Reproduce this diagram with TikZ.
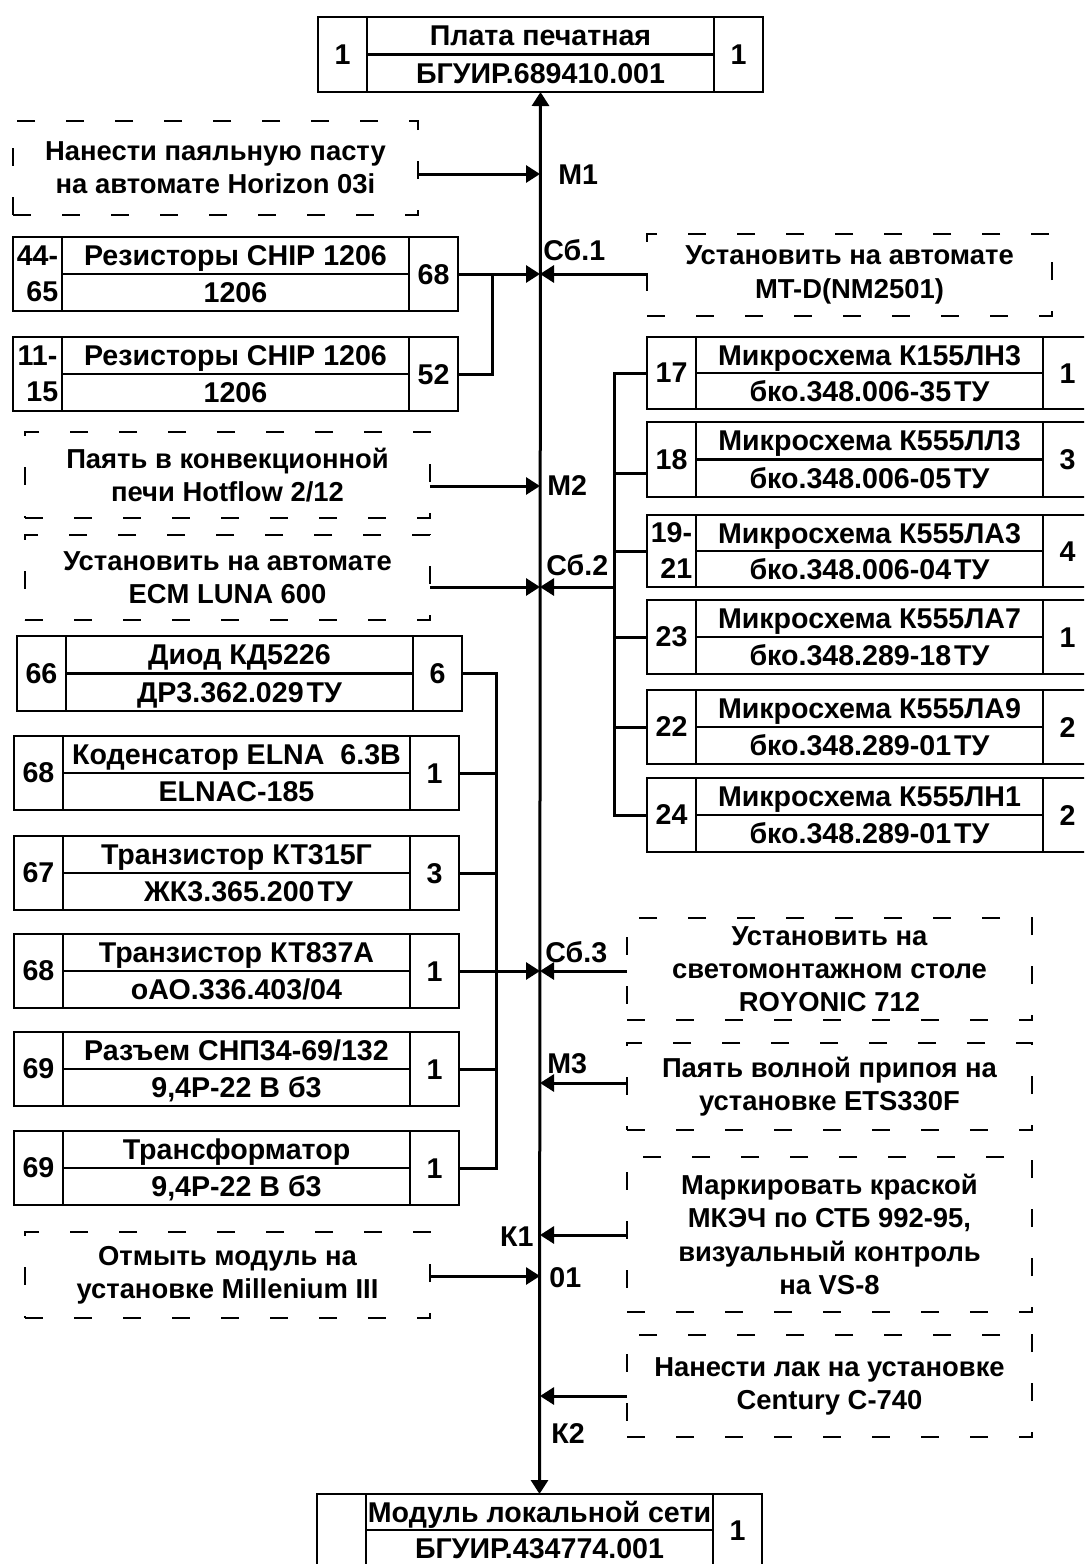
\documentclass[tikz,border=0pt]{standalone}
\usepackage{fontspec}
\setmainfont{Liberation Sans}
\usetikzlibrary{arrows.meta,calc}

\tikzset{
  every node/.style={font=\fontsize{14.3pt}{17pt}\selectfont\bfseries},
  cb/.style={draw, line width=1.4pt, rectangle, inner sep=0pt, outer sep=0pt, minimum width=222.5pt},
  cbl/.style={line width=1.4pt},
  txt/.style={inner sep=0pt, text height=10.2pt, text depth=0pt},
  lab2/.style={inner sep=0pt, align=center, font=\fontsize{14.3pt}{18pt}\selectfont\bfseries},
  dbox/.style={draw, line width=1.4pt, dash pattern=on 9pt off 15.5pt, rectangle, inner sep=0pt, outer sep=0pt, align=center, font=\fontsize{13.7pt}{16.6pt}\selectfont\bfseries},
  conn/.style={line width=1.5pt},
  tip/.tip={Triangle[length=7pt,width=8.5pt]},
  arr/.style={line width=1.5pt, -tip},
  mlab/.style={inner sep=0pt, text height=10.2pt, text depth=0pt},
}

% component box: name, x, ytop, ybottom, left label, top text, bottom text, right label
\newcommand{\compbox}[8]{%
  \node[cb, minimum height={(#4-#3)*0.5pt}, anchor=north west] (#1) at (#2,#3) {};
  \draw[cbl] ([xshift=24.5pt]#1.north west) -- ([xshift=24.5pt]#1.south west);
  \draw[cbl] ([xshift=-24.5pt]#1.north east) -- ([xshift=-24.5pt]#1.south east);
  \draw[cbl] ([xshift=24.5pt]#1.west) -- ([xshift=-24.5pt]#1.east);
  \node[lab2] (#1-l) at ([xshift=12.25pt]#1.west) {#5};
  \node[txt] (#1-t) at ($(#1.north)!0.5!(#1.center)$) {#6};
  \node[txt] (#1-b) at ($(#1.south)!0.5!(#1.center)$) {#7};
  \node[txt] (#1-r) at ([xshift=-12.25pt]#1.east) {#8};
}
% dashed operation box: name, x1, y1, x2, y2, text
\newcommand{\dsbox}[6]{%
  \node[dbox, minimum width={(#4-#2)*0.5pt}, minimum height={(#5-#3)*0.5pt}, anchor=north west] (#1) at (#2,#3) {#6};
}

\begin{document}
\begin{tikzpicture}[x=0.5pt, y=-0.5pt]
\useasboundingbox (0,0) rectangle (1084,1564);
\clip (0,0) rectangle (1084,1564);

% --- top and bottom boxes
\compbox{top}{318}{17}{92}{1}{Плата печатная}{БГУИР.689410.001}{1}
\compbox{bot}{317}{1494}{1566}{}{Модуль локальной сети}{БГУИР.434774.001}{1}

% --- main line
\draw[conn, tip-tip] (top.south) -- (bot.north);

% coordinates on main line
\coordinate (m1)  at (540,174);
\coordinate (sb1) at (540,274);
\coordinate (m2)  at (540,486);
\coordinate (sb2) at (540,587);
\coordinate (sb3) at (540,971);
\coordinate (m3)  at (540,1083);
\coordinate (k1)  at (540,1235);
\coordinate (o1)  at (540,1276);
\coordinate (k2)  at (540,1396);

% --- left side
\dsbox{d1}{13}{121}{418}{215}{Нанести паяльную пасту\\на автомате Horizon 03i}
\compbox{r1}{13}{237}{311}{44-\\\hphantom{-}65}{Резисторы CHIP 1206}{1206}{68}
\compbox{r2}{13}{337}{411}{11-\\\hphantom{-}15}{Резисторы CHIP 1206}{1206}{52}
\dsbox{d3}{25}{432}{430}{518}{Паять в конвекционной\\печи Hotflow 2/12}
\dsbox{d4}{25}{535}{430}{620}{Установить на автомате\\ECM LUNA 600}

\compbox{L1}{17}{636}{711}{66}{Диод КД5226}{ДР3.362.029\kern1.5ptТУ}{6}
\compbox{L2}{14}{736}{810}{68}{Коденсатор ELNA\ \ 6.3В}{ELNAC-185}{1}
\compbox{L3}{14}{836}{910}{67}{Транзистор КТ315Г}{\hspace*{12pt}ЖК3.365.200\kern1.5ptТУ}{3}
\compbox{L4}{14}{934}{1008}{68}{Транзистор КТ837А}{оАО.336.403/04}{1}
\compbox{L5}{14}{1032}{1106}{69}{Разъем СНП34-69/132}{9,4Р-22 В б3}{1}
\compbox{L6}{14}{1131}{1205}{69}{Трансформатор}{9,4Р-22 В б3}{1}
\dsbox{d9}{25}{1232}{430}{1318}{Отмыть модуль на\\установке Millenium III}

% --- right side
\dsbox{d2}{647}{234}{1052}{316}{Установить на автомате\\MT-D(NM2501)}
\compbox{C1}{647}{337}{409}{17}{Микросхема К155ЛН3}{бко.348.006-35\kern1.5ptТУ}{1}
\compbox{C2}{647}{422}{497}{18}{Микросхема К555ЛЛ3}{бко.348.006-05\kern1.5ptТУ}{3}
\compbox{C3}{647}{515}{587}{19-\\\hphantom{-}21}{Микросхема К555ЛА3}{бко.348.006-04\kern1.5ptТУ}{4}
\compbox{C4}{647}{600}{674}{23}{Микросхема К555ЛА7}{бко.348.289-18\kern1.5ptТУ}{1}
\compbox{C5}{647}{690}{764}{22}{Микросхема К555ЛА9}{бко.348.289-01\kern1.5ptТУ}{2}
\compbox{C6}{647}{778}{852}{24}{Микросхема К555ЛН1}{бко.348.289-01\kern1.5ptТУ}{2}

\dsbox{d5}{627}{918}{1032}{1020}{Установить на\\светомонтажном столе\\ROYONIC 712}
\dsbox{d6}{627}{1043}{1032}{1130}{Паять волной припоя на\\установке ETS330F}
\dsbox{d7}{627}{1157}{1032}{1312}{Маркировать краской\\МКЭЧ по СТБ 992-95,\\визуальный контроль\\на VS-8}
\dsbox{d8}{627}{1335}{1032}{1437}{Нанести лак на установке\\Century C-740}

% --- junctions
\coordinate (j1) at (492,274);
\coordinate (j2) at (614,587);
\coordinate (j3) at (496,971);

% resistors -> Сб.1
\draw[arr] (r1.east) -- (sb1);
\draw[conn] (r2.east) -| (j1);
\draw[arr] (d2.west |- sb1) -- (sb1);
% М1, М2
\draw[arr] (d1.east |- m1) -- (m1);
\draw[arr] (d3.east |- m2) -- (m2);
% Сб.2
\draw[arr] (d4.east |- sb2) -- (sb2);
\draw[arr] (j2) -- (sb2);
\draw[conn] (C1.west) -| (j2);
\draw[conn] (C6.west) -| (j2);
\coordinate (c2b) at ([yshift=-7pt]C2.west);
\draw[conn] (c2b) -- (c2b -| j2);
\draw[conn] (C3.west) -- (C3.west -| j2);
\draw[conn] (C4.west) -- (C4.west -| j2);
\draw[conn] (C5.west) -- (C5.west -| j2);
% Сб.3
\draw[arr] (L4.east) -- (sb3);
\draw[conn] (L1.east) -| (j3);
\draw[conn] (L6.east) -| (j3);
\draw[conn] (L2.east) -- (L2.east -| j3);
\draw[conn] (L3.east) -- (L3.east -| j3);
\draw[conn] (L5.east) -- (L5.east -| j3);
\draw[arr] (d5.west |- sb3) -- (sb3);
% М3, К1, 01, К2
\draw[arr] (d6.west |- m3) -- (m3);
\draw[arr] (d7.west |- k1) -- (k1);
\draw[arr] (d9.east |- o1) -- (o1);
\draw[arr] (d8.west |- k2) -- (k2);

% --- labels on main line
\node[mlab, anchor=west] (lm1) at (558,174) {М1};
\node[mlab, anchor=west] (lsb1) at (543,250) {Сб.1};
\node[mlab, anchor=west] (lm2) at (547,485) {М2};
\node[mlab, anchor=west] (lsb2) at (546,565) {Сб.2};
\node[mlab, anchor=west] (lsb3) at (545,952) {Сб.3};
\node[mlab, anchor=west] (lm3) at (547,1063) {М3};
\node[mlab, anchor=east] (lk1) at (534,1236) {К1};
\node[mlab, anchor=west] (lo1) at (549,1277) {01};
\node[mlab, anchor=west] (lk2) at (551,1433) {К2};
\end{tikzpicture}
\end{document}
